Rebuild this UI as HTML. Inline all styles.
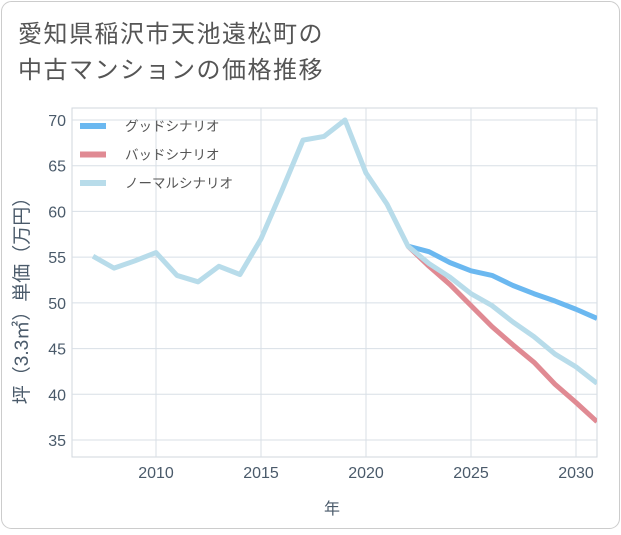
<!DOCTYPE html>
<html><head><meta charset="utf-8"><style>
body{margin:0;background:#fff}
svg text{font-family:"Liberation Sans","Noto Sans CJK JP",sans-serif}
</style></head><body>
<svg width="621" height="530" xmlns="http://www.w3.org/2000/svg">
<rect x="1.5" y="1.5" width="618" height="527" rx="10" fill="#fff" stroke="#ccc"/>
<text x="18" y="42" font-size="24" letter-spacing="1.5" fill="#555">愛知県稲沢市天池遠松町の</text>
<text x="18" y="78" font-size="24" letter-spacing="1.5" fill="#555">中古マンションの価格推移</text>
<g id="grid"></g>
<g id="series"></g>
<g id="legend"></g>
<text transform="translate(28,296) rotate(-90)" text-anchor="middle" font-size="19" fill="#4a5a6a">坪（3.3㎡）単価（万円）</text>
<text x="332" y="514" text-anchor="middle" font-size="16" fill="#4a5a6a">年</text>
</svg>
<script>
const years=[2007,2008,2009,2010,2011,2012,2013,2014,2015,2016,2017,2018,2019,2020,2021,2022,2023,2024,2025,2026,2027,2028,2029,2030,2031];
const normalValues=[55.1,53.8,54.6,55.5,53.0,52.3,54.0,53.1,57.0,62.3,67.8,68.2,70.0,64.2,60.8,56.2,54.3,52.8,51.0,49.7,47.9,46.3,44.4,43.0,41.2];
const goodYears=[2022,2023,2024,2025,2026,2027,2028,2029,2030,2031];
const goodValues=[56.2,55.6,54.4,53.5,53.0,51.9,51.0,50.2,49.3,48.3];
const badValues=[56.2,54.0,52.0,49.7,47.4,45.4,43.5,41.1,39.1,37.0];
const xTicks=[2010,2015,2020,2025,2030];
const yTicks=[35,40,45,50,55,60,65,70];
const legendLabels=["グッドシナリオ","バッドシナリオ","ノーマルシナリオ"];
const colors=["#6bb8f0","#e08a93","#b8dcea"];
const L=72,R=597,T=108,B=457;
const x=v=>156+(v-2010)*21;
const y=v=>120+(70-v)*(320/35);
const NS="http://www.w3.org/2000/svg";
function mk(tag,attrs,parent,txt){const e=document.createElementNS(NS,tag);for(const k in attrs)e.setAttribute(k,attrs[k]);if(txt!=null)e.textContent=txt;parent.appendChild(e);return e;}
const g=document.getElementById('grid');
const frame=mk('rect',{x:L,y:T,width:R-L,height:B-T,fill:'none',stroke:'#d0d7de'},g);


xTicks.forEach(t=>{
 const l=mk('line',{x1:x(t),x2:x(t),y1:T,y2:B,stroke:'#d8dfe6'},g);
 
 
 const tx=mk('text',{x:x(t),y:478,'text-anchor':'middle','font-size':16,fill:'#4a5a6a'},g,t);
 
 
});
yTicks.forEach(t=>{
 const l=mk('line',{x1:L,x2:R,y1:y(t),y2:y(t),stroke:'#d8dfe6'},g);
 
 
 const tx=mk('text',{x:66,y:y(t)+6,'text-anchor':'end','font-size':16,fill:'#4a5a6a'},g,t);
 
 
});
const s=document.getElementById('series');
function line(xs,vs,c,name){
 const p=mk('polyline',{points:xs.map((yr,i)=>x(yr)+','+y(vs[i])).join(' '),fill:'none',stroke:c,'stroke-width':5,'stroke-linejoin':'round'},s);
 
 
}
const clip=mk('clipPath',{id:'c'},document.querySelector('svg'));
mk('rect',{x:L,y:T,width:R-L,height:B-T},clip);
s.setAttribute('clip-path','url(#c)');
line(goodYears,goodValues,colors[0],'good-scenario-line');
line(goodYears,badValues,colors[1],'bad-scenario-line');
line(years,normalValues,colors[2],'normal-scenario-line');
const lg=document.getElementById('legend');
legendLabels.forEach((t,i)=>{
 const yy=126+i*28.5;
 const l=mk('line',{x1:80,x2:106,y1:yy,y2:yy,stroke:colors[i],'stroke-width':6},lg);
 
 
 const tx=mk('text',{x:125,y:yy+5,'font-size':13.5,fill:'#555'},lg,t);
 
 
});
</script>
</body></html>
